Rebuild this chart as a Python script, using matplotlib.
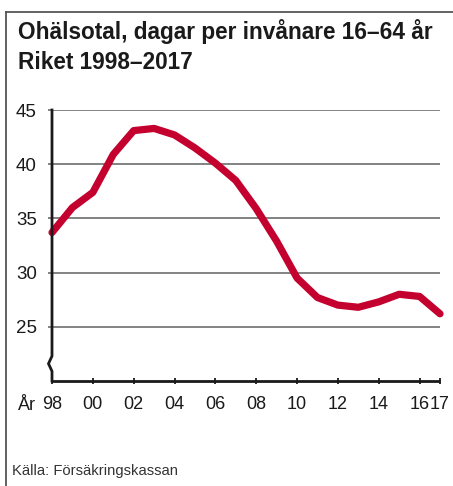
import matplotlib
matplotlib.use("Agg")
import matplotlib.pyplot as plt
from matplotlib.lines import Line2D
import matplotlib.transforms as mtransforms

years = [1998, 1999, 2000, 2001, 2002, 2003, 2004, 2005, 2006, 2007,
         2008, 2009, 2010, 2011, 2012, 2013, 2014, 2015, 2016, 2017]
values = [33.7, 36.0, 37.4, 40.9, 43.1, 43.3, 42.7, 41.5, 40.1, 38.5,
          35.9, 32.9, 29.5, 27.7, 27.0, 26.8, 27.3, 28.0, 27.8, 26.2]
xtick_pos = [1998, 2000, 2002, 2004, 2006, 2008, 2010, 2012, 2014, 2016, 2017]
xtick_labels = ["98", "00", "02", "04", "06", "08", "10", "12", "14", "16", "17"]
ytick_pos = [25, 30, 35, 40, 45]
ytick_labels = ["25", "30", "35", "40", "45"]
title = "Ohälsotal, dagar per invånare 16–64 år\nRiket 1998–2017"
source = "Källa: Försäkringskassan"

plt.rcParams['font.family'] = ['Liberation Sans', 'DejaVu Sans']

W, H = 453, 486
fig = plt.figure(figsize=(W / 100, H / 100), dpi=100)
ax = fig.add_axes([52 / W, 1 - 381 / H, (440 - 52) / W, (381 - 110) / H])

ax.set_xlim(1998, 2017)
ax.set_ylim(20, 45)

ax.grid(axis='y', color='#606060', linewidth=1.1)
ax.set_axisbelow(True)

ax.plot(years, values, color='#C4002F', linewidth=5.2, solid_capstyle='round',
        solid_joinstyle='round', clip_on=False, zorder=3)

for s in ['top', 'right', 'left']:
    ax.spines[s].set_visible(False)
ax.spines['bottom'].set_linewidth(2)
ax.spines['bottom'].set_color('#1a1a1a')
ax.spines['bottom'].set_capstyle('butt')

ax.set_xticks(xtick_pos)
ax.set_xticklabels(xtick_labels)
ax.tick_params(axis='x', direction='inout', length=5, width=1.3, color='#1a1a1a',
               pad=8, labelsize=13, labelcolor='#1a1a1a')
ax.set_yticks(ytick_pos)
ax.set_yticklabels(ytick_labels)
ax.tick_params(axis='y', direction='out', length=3, width=1.1, color='#606060',
               pad=8, labelsize=13.5, labelcolor='#1a1a1a')

# y axis with break symbol
trans = mtransforms.blended_transform_factory(ax.transAxes, ax.transData)
off = 3.5 / (440 - 52)
ax.add_line(Line2D([0, 0, -off, 0, 0], [45, 22.3, 21.6, 20.9, 20],
                   transform=trans, color='#1a1a1a', linewidth=2,
                   clip_on=False, zorder=4, solid_joinstyle='miter'))

# "År" label
fig.text(18 / W, 1 - 405 / H, "År", fontsize=13, color='#1a1a1a',
         ha='left', va='center')

# title
fig.text(18 / W, 1 - 19 / H, title, fontsize=16.3, fontweight='bold', color='#1a1a1a',
         ha='left', va='top', linespacing=1.38)

# source
fig.text(12 / W, 1 - 471 / H, source, fontsize=10.6, color='#333333',
         ha='left', va='center')

# frame lines
fig.add_artist(Line2D([5.5 / W, 5.5 / W], [0, 1 - 12 / H], transform=fig.transFigure,
                      color='#555555', linewidth=1.3))
fig.add_artist(Line2D([5.5 / W, 1], [1 - 12 / H, 1 - 12 / H], transform=fig.transFigure,
                      color='#555555', linewidth=1.3))

fig.savefig("out.png", dpi=100)
